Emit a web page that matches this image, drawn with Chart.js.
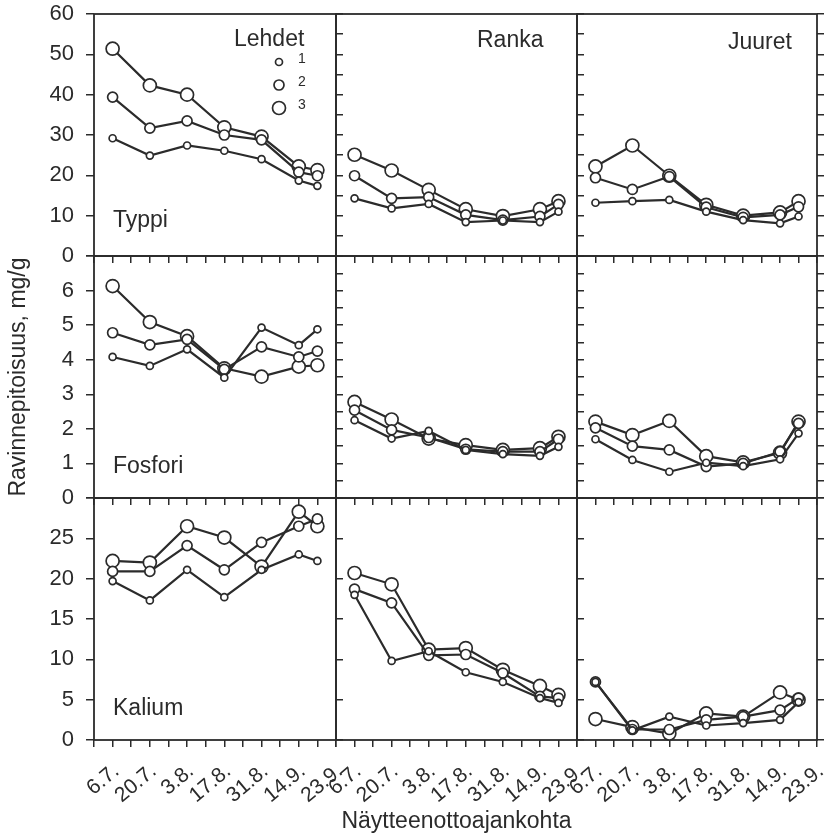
<!DOCTYPE html>
<html>
<head>
<meta charset="utf-8">
<script src="https://cdn.jsdelivr.net/npm/chart.js@4.4.0/dist/chart.umd.min.js"></script>
<style>
  body { margin: 0; background: #fff; }
  #wrap { position: relative; width: 832px; height: 835px; }
  #wrap canvas { position: absolute; }
</style>
</head>
<body>
<div id="wrap"></div>
<script>
// sampling dates as weeks after 6.7.
const sampleWeeks = [0, 2, 4, 6, 8, 10, 11];
const dateLabels = ['6.7.', '20.7.', '3.8.', '17.8.', '31.8.', '14.9.', '23.9.'];
const labelWeeks = [0, 2, 4, 6, 8, 10, 12];

const parts = ['Lehdet', 'Ranka', 'Juuret'];
const nutrients = ['Typpi', 'Fosfori', 'Kalium'];
const yMax = [60, 7, 30];
const yStep = [5, 0.5, 5];
const yLabelStep = [10, 1, 5];

// mg/g, each panel holds classes 1, 2, 3
const typpiLehdet = [
  [29.2, 24.9, 27.4, 26.1, 24.0, 18.7, 17.4],
  [39.4, 31.7, 33.5, 30.0, 28.8, 20.8, 19.9],
  [51.4, 42.3, 40.0, 31.9, 29.6, 22.2, 21.3]
];
const typpiRanka = [
  [14.3, 11.8, 12.9, 8.4, 8.8, 8.4, 11.0],
  [19.9, 14.3, 14.6, 10.2, 8.9, 9.8, 12.8],
  [25.1, 21.2, 16.4, 11.6, 9.9, 11.6, 13.6]
];
const typpiJuuret = [
  [13.2, 13.6, 13.9, 11.0, 8.9, 8.1, 9.8],
  [19.4, 16.5, 19.7, 12.1, 9.6, 10.2, 12.2],
  [22.2, 27.4, 19.9, 12.7, 10.0, 10.8, 13.6]
];
const fosforiLehdet = [
  [4.08, 3.82, 4.30, 3.48, 4.93, 4.42, 4.88],
  [4.78, 4.43, 4.59, 3.72, 4.37, 4.08, 4.25],
  [6.13, 5.09, 4.68, 3.75, 3.51, 3.80, 3.84]
];
const fosforiRanka = [
  [2.25, 1.72, 1.94, 1.39, 1.27, 1.22, 1.48],
  [2.54, 1.97, 1.75, 1.41, 1.34, 1.34, 1.70],
  [2.78, 2.27, 1.72, 1.53, 1.39, 1.44, 1.77]
];
const fosforiJuuret = [
  [1.70, 1.10, 0.76, 1.02, 0.92, 1.12, 1.87],
  [2.03, 1.50, 1.39, 0.91, 1.00, 1.34, 2.16],
  [2.21, 1.82, 2.23, 1.21, 1.03, 1.31, 2.21]
];
const kaliumLehdet = [
  [19.7, 17.3, 21.1, 17.7, 21.1, 23.0, 22.2],
  [20.9, 20.9, 24.1, 21.1, 24.5, 26.5, 27.4],
  [22.2, 22.0, 26.5, 25.1, 21.5, 28.3, 26.5]
];
const kaliumRanka = [
  [18.0, 9.8, 11.0, 8.4, 7.2, 5.2, 4.6],
  [18.7, 17.0, 10.5, 10.6, 8.3, 5.4, 5.2],
  [20.7, 19.3, 11.2, 11.4, 8.7, 6.7, 5.6]
];
const kaliumJuuret = [
  [7.2, 1.2, 2.9, 1.8, 2.1, 2.5, 4.7],
  [7.2, 1.3, 1.3, 2.5, 2.9, 3.7, 5.2],
  [2.6, 1.6, 0.8, 3.3, 2.9, 5.9, 5.0]
];

const panelData = [
  [typpiLehdet, typpiRanka, typpiJuuret],
  [fosforiLehdet, fosforiRanka, fosforiJuuret],
  [kaliumLehdet, kaliumRanka, kaliumJuuret]
];

const ink = '#2b2b2b';
const font = "'Liberation Sans', Arial, Helvetica, sans-serif";
Chart.defaults.font.family = font;
Chart.defaults.color = ink;

const radii = [3.5, 5, 6.5];
const colLeft = [94, 336, 577];
const colW = [242, 241, 240];
const rowTop = [14, 256, 498];
const rowH = 242;

// box around each plot area
const framePlugin = {
  id: 'frame',
  beforeDatasetsDraw(chart) {
    const a = chart.chartArea, ctx = chart.ctx;
    ctx.save();
    ctx.strokeStyle = ink;
    ctx.lineWidth = 1.8;
    ctx.strokeRect(a.left, a.top, a.right - a.left, a.bottom - a.top);
    ctx.restore();
  }
};

// panel names and the size-class key
const panelTextPlugin = {
  id: 'panelText',
  afterDraw(chart, args, opts) {
    const a = chart.chartArea, ctx = chart.ctx;
    ctx.save();
    ctx.fillStyle = ink;
    ctx.textBaseline = 'alphabetic';
    (opts.items || []).forEach(t => {
      ctx.font = t.size + 'px ' + font;
      ctx.fillText(t.text, a.left + t.x, a.top + t.y);
    });
    if (opts.key) {
      chart.data.datasets.forEach((ds, i) => {
        const cy = a.top + 48 + i * 23;
        ctx.beginPath();
        ctx.arc(a.left + 185, cy, ds.pointRadius, 0, Math.PI * 2);
        ctx.fillStyle = '#fff';
        ctx.fill();
        ctx.lineWidth = 1.7;
        ctx.strokeStyle = ink;
        ctx.stroke();
        ctx.fillStyle = ink;
        ctx.font = '14px ' + font;
        ctx.textBaseline = 'middle';
        ctx.fillText(ds.label, a.left + 204, cy - 3);
      });
    }
    ctx.restore();
  }
};

function panelItems(r, c) {
  const items = [];
  if (r === 0 && c === 0) items.push({ text: parts[0], x: 140, y: 32, size: 23 });
  if (r === 0 && c === 1) items.push({ text: parts[1], x: 141, y: 33, size: 23 });
  if (r === 0 && c === 2) items.push({ text: parts[2], x: 151, y: 35, size: 23 });
  if (c === 0) items.push({ text: nutrients[r], x: 19, y: r === 0 ? 213 : 217, size: 23 });
  return items;
}

function drawPanel(r, c) {
  const padL = c === 0 ? 0 : 40;
  const yLeftW = c === 0 ? 94 : 0;
  const yRightW = 16;
  const padT = 14;
  const xH = r === 2 ? 95 : 12;
  const w = padL + yLeftW + colW[c] + yRightW;
  const h = padT + rowH + xH;

  const canvas = document.createElement('canvas');
  canvas.width = w;
  canvas.height = h;
  canvas.style.left = (colLeft[c] - padL - yLeftW) + 'px';
  canvas.style.top = (rowTop[r] - padT) + 'px';
  canvas.style.width = w + 'px';
  canvas.style.height = h + 'px';
  document.getElementById('wrap').appendChild(canvas);

  const tickGrid = len => ({ drawOnChartArea: false, drawTicks: true, tickLength: len, color: ink, lineWidth: 1.5 });

  const scales = {
    x: {
      type: 'linear', position: 'bottom', min: -1, max: 12,
      grid: tickGrid(7),
      border: { display: false },
      ticks: {
        display: r === 2, stepSize: 1, autoSkip: false,
        minRotation: 40, maxRotation: 40, padding: 12, labelOffset: 4,
        font: { size: 21 },
        callback: v => {
          const i = labelWeeks.indexOf(v);
          return i >= 0 ? dateLabels[i] : '';
        }
      },
      title: {
        display: r === 2 && c === 1,
        text: 'Näytteenottoajankohta',
        font: { size: 23 },
        padding: { top: 0, bottom: 0 }
      },
      afterFit: s => { s.height = xH; s.paddingLeft = 0; s.paddingRight = 0; }
    },
    y: {
      type: 'linear', position: 'right', min: 0, max: yMax[r],
      grid: tickGrid(7),
      border: { display: false },
      ticks: { display: false, stepSize: yStep[r] },
      afterFit: s => { s.width = yRightW; s.paddingTop = 0; s.paddingBottom = 0; }
    }
  };
  if (c === 0) {
    scales.yl = {
      type: 'linear', position: 'left', min: 0, max: yMax[r],
      grid: tickGrid(8),
      border: { display: false },
      ticks: {
        stepSize: yStep[r], padding: 12,
        font: { size: 22 },
        callback: v => (Math.abs(v / yLabelStep[r] - Math.round(v / yLabelStep[r])) < 1e-6 && (r === 0 || v < yMax[r])) ? v : ''
      },
      title: {
        display: r === 1,
        text: 'Ravinnepitoisuus, mg/g',
        font: { size: 23 },
        padding: { top: 5, bottom: 0 }
      },
      afterFit: s => { s.width = yLeftW; s.paddingTop = 0; s.paddingBottom = 0; }
    };
  }

  new Chart(canvas, {
    type: 'line',
    data: {
      datasets: panelData[r][c].map((vals, i) => ({
        label: String(i + 1),
        data: vals.map((v, k) => ({ x: sampleWeeks[k], y: v })),
        yAxisID: 'y',
        borderColor: ink,
        borderWidth: 2.2,
        pointRadius: radii[i],
        pointBorderWidth: 1.7,
        pointBorderColor: ink,
        pointBackgroundColor: '#fff',
        tension: 0,
        clip: false
      }))
    },
    options: {
      responsive: false,
      animation: false,
      events: [],
      layout: { padding: { left: padL, top: padT, right: 0, bottom: 0 }, autoPadding: false },
      plugins: {
        legend: { display: false },
        tooltip: { enabled: false },
        panelText: { items: panelItems(r, c), key: r === 0 && c === 0 }
      },
      scales: scales
    },
    plugins: [framePlugin, panelTextPlugin]
  });
}

for (let r = 0; r < 3; r++) {
  for (let c = 0; c < 3; c++) drawPanel(r, c);
}
</script>
</body>
</html>
